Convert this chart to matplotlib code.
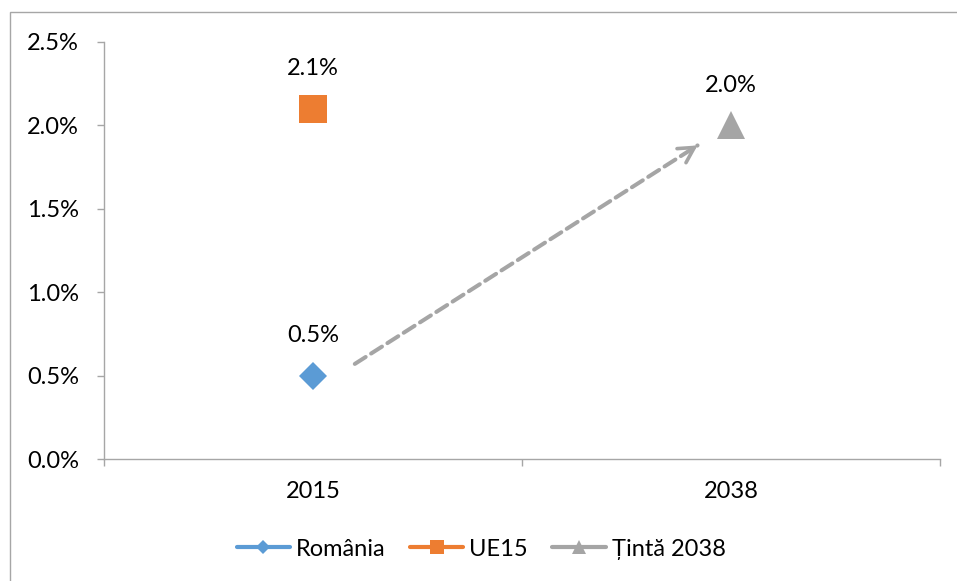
import matplotlib
matplotlib.use('Agg')
import matplotlib.pyplot as plt
import numpy as np
from matplotlib.patches import Rectangle
from matplotlib.ticker import FuncFormatter, FixedLocator

# ---- data ----
categories = ['2015', '2038']
romania = [0.5, np.nan]
ue15 = [2.1, np.nan]
tinta = [np.nan, 2.0]
series_names = ['România', 'UE15', 'Țintă 2038']
yticks = [0.0, 0.5, 1.0, 1.5, 2.0, 2.5]
arrow_start = (0.60, 0.57)   # (category position, %)
arrow_end = (1.42, 1.88)

plt.rcParams['font.family'] = ['Lato', 'DejaVu Sans']
FS = 17

W, H = 957, 581
fig = plt.figure(figsize=(W / 100, H / 100), dpi=100)
fig.patch.set_facecolor('white')

# outer chart border (cropped at right/bottom)
fig.patches.append(Rectangle((10 / W, -0.05), 1.2, 1 - 12 / H + 0.05,
                             transform=fig.transFigure, fill=False,
                             edgecolor='#A6A6A6', linewidth=1.0))

ax = fig.add_axes([104 / W, 1 - 459 / H, (940 - 104) / W, (459 - 42) / H])

xpos = np.arange(len(categories)) + 0.5
colors = ['#5B9BD5', '#ED7D31', '#A5A5A5']
markers = ['D', 's', '^']
msizes = [14.3, 20, 20]
series = [romania, ue15, tinta]

for vals, name, c, m, ms in zip(series, series_names, colors, markers, msizes):
    ax.plot(xpos, vals, color=c, marker=m, markersize=ms, linewidth=3,
            markeredgewidth=0, label=name, solid_capstyle='round')
    for x, v in zip(xpos, vals):
        if not np.isnan(v):
            ax.annotate(f'{v:.1f}%', (x, v), xytext=(0, 28.8),
                        textcoords='offset points', ha='center', va='center',
                        fontsize=FS, color='black')

# dashed shaft
ax.annotate('', xy=arrow_end, xytext=arrow_start,
            arrowprops=dict(arrowstyle='-', color='#A5A5A5', lw=2.9,
                            linestyle=(0, (3.2, 1.6)),
                            shrinkA=0, shrinkB=0))
# solid open arrow head
hx = arrow_end[0] - (arrow_end[0] - arrow_start[0]) * 0.02
hy = arrow_end[1] - (arrow_end[1] - arrow_start[1]) * 0.02
ax.annotate('', xy=arrow_end, xytext=(hx, hy),
            arrowprops=dict(arrowstyle='->,head_length=0.55,head_width=0.3',
                            color='#A5A5A5', lw=2.6, mutation_scale=20,
                            shrinkA=0, shrinkB=0))

ax.set_xlim(0, len(categories))
ax.set_ylim(0, 2.5)
ax.set_yticks(yticks)
ax.yaxis.set_major_formatter(FuncFormatter(lambda v, p: f'{v:.1f}%'))

ax.xaxis.set_major_locator(FixedLocator(np.arange(len(categories) + 1)))
ax.xaxis.set_minor_locator(FixedLocator(xpos))
ax.set_xticklabels([], minor=False)
ax.set_xticklabels(categories, minor=True)
ax.tick_params(axis='x', which='major', length=5, width=1.0, color='#A6A6A6',
               direction='out')
ax.tick_params(axis='x', which='minor', length=0, pad=16, labelsize=FS)
ax.tick_params(axis='y', length=5, width=1.0, color='#A6A6A6', direction='out',
               pad=13, labelsize=FS)

for s in ['top', 'right']:
    ax.spines[s].set_visible(False)
for s in ['left', 'bottom']:
    ax.spines[s].set_color('#A6A6A6')
    ax.spines[s].set_linewidth(1.0)

leg = fig.legend(loc='center', bbox_to_anchor=(481 / W, 1 - 549 / H), ncol=3,
                 frameon=False, fontsize=FS, markerscale=0.5, handlelength=2.25,
                 handletextpad=0.25, columnspacing=1.05)

fig.savefig('out.png', dpi=100, facecolor='white')
